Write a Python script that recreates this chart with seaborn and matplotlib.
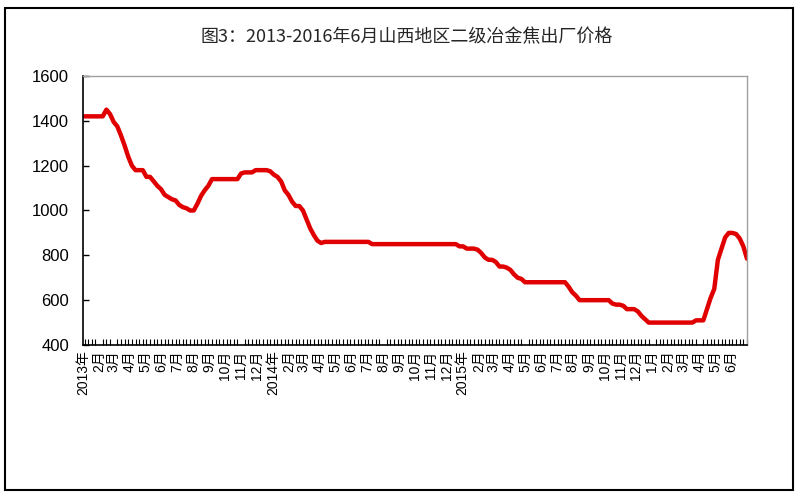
import matplotlib.pyplot as plt
import matplotlib.dates as mdates
import numpy as np
import pandas as pd
import seaborn as sns
from matplotlib.patches import Rectangle
from matplotlib.ticker import FixedLocator

TITLE = "图3：2013-2016年6月山西地区二级冶金焦出厂价格"

# weekly price, first week of Jan 2013 to late Jun 2016 (yuan/t)
prices = [
    1420, 1420, 1420, 1420, 1420, 1420, 1450, 1430, 1395, 1375,
    1335, 1290, 1240, 1200, 1180, 1180, 1180, 1150, 1150, 1130,
    1110, 1095, 1070, 1060, 1050, 1045, 1025, 1015, 1010, 1000,
    1000, 1030, 1065, 1090, 1110, 1140, 1140, 1140, 1140, 1140,
    1140, 1140, 1140, 1165, 1170, 1170, 1170, 1180, 1180, 1180,
    1180, 1175, 1160, 1150, 1130, 1090, 1070, 1040, 1020, 1020,
    1000, 960, 920, 890, 865, 855, 860, 860, 860, 860,
    860, 860, 860, 860, 860, 860, 860, 860, 860, 850,
    850, 850, 850, 850, 850, 850, 850, 850, 850, 850,
    850, 850, 850, 850, 850, 850, 850, 850, 850, 850,
    850, 850, 850, 840, 840, 830, 830, 830, 825, 810,
    790, 780, 780, 770, 750, 750, 745, 735, 715, 700,
    695, 680, 680, 680, 680, 680, 680, 680, 680, 680,
    680, 680, 680, 660, 635, 620, 600, 600, 600, 600,
    600, 600, 600, 600, 600, 585, 580, 580, 575, 560,
    560, 560, 550, 530, 515, 500, 500, 500, 500, 500,
    500, 500, 500, 500, 500, 500, 500, 500, 510, 510,
    510, 560, 610, 650, 780, 830, 880, 900, 900, 895,
    875, 840, 785,
]
weeks = pd.date_range("2013-01-04", periods=len(prices), freq="7D")

month_starts = pd.date_range("2013-01-01", "2016-06-01", freq="MS")
month_labels = [
    "2013年", "2月", "3月", "4月", "5月", "6月", "7月", "8月", "9月", "10月", "11月", "12月",
    "2014年", "2月", "3月", "4月", "5月", "6月", "7月", "8月", "9月", "10月", "11月", "12月",
    "2015年", "2月", "3月", "4月", "5月", "6月", "7月", "8月", "9月", "10月", "11月", "12月",
    "1月", "2月", "3月", "4月", "5月", "6月",
]
y_ticks = [400, 600, 800, 1000, 1200, 1400, 1600]

sns.set_theme(style="white")
plt.rcParams["font.family"] = ["Noto Sans CJK SC", "DejaVu Sans"]

df = pd.DataFrame({"date": weeks, "price": prices})

fig = plt.figure(figsize=(8, 5), dpi=100)
ax = fig.add_axes([83 / 800, 155 / 500, 664 / 800, 269 / 500])
sns.lineplot(data=df, x="date", y="price", ax=ax, color="#e00000", linewidth=3.2)

ax.set_xlim(pd.Timestamp("2013-01-01"), pd.Timestamp("2016-07-01"))
ax.set_ylim(y_ticks[0], y_ticks[-1])
ax.set_yticks(y_ticks)
ax.set_yticklabels([str(v) for v in y_ticks], fontsize=12, family="Liberation Sans")
ax.set_xlabel("")
ax.set_ylabel("")

ax.xaxis.set_major_locator(FixedLocator(mdates.date2num(month_starts)))
ax.set_xticklabels(month_labels, rotation=90, fontsize=10,
                   family=["Liberation Sans", "Noto Sans CJK SC"])
ax.xaxis.set_minor_locator(FixedLocator(mdates.date2num(weeks)))
ax.tick_params(axis="x", which="major", length=0, pad=4, colors="black")
ax.tick_params(axis="x", which="minor", bottom=True, direction="in", length=4, width=0.8, color="black")
ax.tick_params(axis="y", left=True, direction="in", length=4, width=1, pad=10, colors="black")

for side in ["left", "bottom"]:
    ax.spines[side].set_color("black")
    ax.spines[side].set_linewidth(1.2)
for side in ["top", "right"]:
    ax.spines[side].set_color("#a0a0a0")
    ax.spines[side].set_linewidth(1)

fig.text(0.508, 1 - 37 / 500, TITLE, ha="center", va="center", fontsize=13)
fig.patches.append(Rectangle((0.006, 0.02), 0.985, 0.964, transform=fig.transFigure,
                             fill=False, edgecolor="black", linewidth=1.5))

fig.savefig("out.png", dpi=100)
